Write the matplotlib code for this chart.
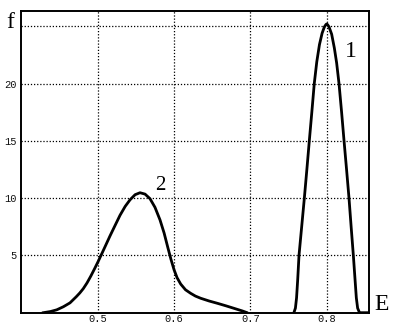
import matplotlib.pyplot as plt

# curve 1 (narrow peak near E=0.8)
e1 = [0.7570, 0.7590, 0.7605, 0.7620, 0.7637, 0.7672, 0.7707, 0.7740, 0.7772, 0.7805,
      0.7837, 0.7870, 0.7905, 0.7940, 0.7970, 0.7990, 0.8000, 0.8010, 0.8030, 0.8065,
      0.8100, 0.8130, 0.8161, 0.8195, 0.8227, 0.8260, 0.8292, 0.8320, 0.8349, 0.8370,
      0.8388, 0.8405, 0.8430, 0.8554]
f1 = [0.0, 0.4, 1.3, 2.9, 5.0, 7.5, 10.0, 12.5, 15.0, 17.5,
      20.0, 21.9, 23.4, 24.4, 24.95, 25.15, 25.2, 25.15, 24.95, 24.3,
      23.1, 21.8, 20.0, 17.5, 15.0, 12.5, 10.0, 7.5, 5.0, 3.0,
      1.3, 0.4, 0.0, 0.0]

# curve 2 (broad peak near E=0.555)
e2 = [0.4287, 0.4380, 0.4463, 0.4550, 0.4637, 0.4720, 0.4765, 0.4811, 0.4860, 0.4910,
      0.4960, 0.5008, 0.5085, 0.5161, 0.5230, 0.5292, 0.5360, 0.5423, 0.5490, 0.5554,
      0.5620, 0.5685, 0.5750, 0.5816, 0.5870, 0.5920, 0.5960, 0.6000, 0.6040, 0.6087,
      0.6150, 0.6218, 0.6280, 0.6349, 0.6460, 0.6568, 0.6680, 0.6786, 0.6896, 0.6950]
f2 = [0.0, 0.1, 0.25, 0.52, 0.86, 1.4, 1.72, 2.1, 2.6, 3.2,
      3.85, 4.5, 5.6, 6.7, 7.65, 8.5, 9.28, 9.85, 10.3, 10.47,
      10.35, 9.95, 9.2, 8.1, 6.95, 5.65, 4.65, 3.75, 3.05, 2.5,
      2.0, 1.69, 1.45, 1.26, 1.02, 0.82, 0.6, 0.38, 0.15, 0.02]

x_ticks = [0.5, 0.6, 0.7, 0.8]
y_ticks = [5, 10, 15, 20, 25]
y_tick_labels = ["5", "10", "15", "20", ""]

fig = plt.figure(figsize=(3.94, 3.25), dpi=100)
ax = fig.add_axes([21 / 394, 12.3 / 325, 348 / 394, 301.7 / 325])

ax.plot(e1, f1, color="black", linewidth=2.0, solid_joinstyle="round")
ax.plot(e2, f2, color="black", linewidth=2.0, solid_joinstyle="round")

ax.set_xlim(0.3995, 0.8554)
ax.set_ylim(0, 26.33)
ax.set_xticks(x_ticks)
ax.set_xticklabels([str(x) for x in x_ticks])
ax.set_yticks(y_ticks)
ax.set_yticklabels(y_tick_labels)
ax.tick_params(length=0, labelsize=7.5, labelcolor="#111111")
ax.tick_params(axis="x", pad=1.2)
ax.tick_params(axis="y", pad=3)
for lbl in ax.get_xticklabels() + ax.get_yticklabels():
    lbl.set_family("Liberation Mono")
ax.grid(True, color="black", linestyle=(0, (1, 1.5)), linewidth=0.9)
for s in ax.spines.values():
    s.set_linewidth(1.4)

serif = "Liberation Serif"
fig.text(10 / 394, 1 - 23 / 325, "f", family=serif, fontsize=17, ha="center", va="center")
fig.text(382 / 394, 1 - 305 / 325, "E", family=serif, fontsize=17, ha="center", va="center")
ax.text(0.8318, 22.8, "1", family=serif, fontsize=17, ha="center", va="center")
ax.text(0.5817, 11.1, "2", family=serif, fontsize=15, ha="center", va="center")

fig.savefig("out.png", dpi=100)
